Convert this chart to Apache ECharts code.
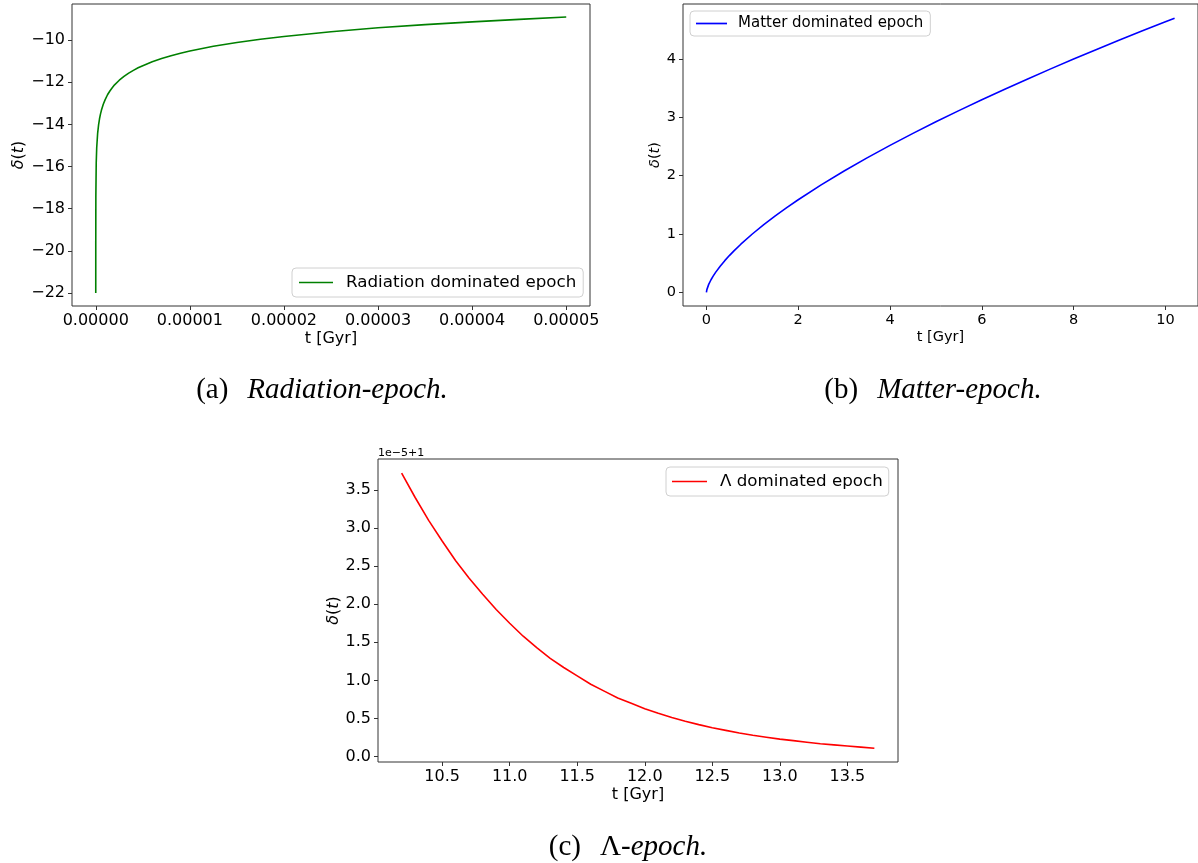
<!DOCTYPE html>
<html><head><meta charset="utf-8">
<script src="https://cdn.jsdelivr.net/npm/echarts@6/dist/echarts.min.js"></script>
<style>html,body{margin:0;padding:0;background:#fff}#c{width:1198px;height:863px}</style>
</head><body><div id="c"></div>
<script>
// ---- Data ----
const tRad = [1.03e-10, 1e-9, 1e-8, 5e-8, 1e-7, 2e-7, 3e-7, 4e-7, 5e-7, 6e-7, 8e-7, 1e-6, 1.25e-6, 1.5e-6, 1.75e-6, 2e-6, 2.5e-6, 3e-6, 3.5e-6, 4e-6, 4.5e-6, 5e-6, 6e-6, 7e-6, 8e-6, 9e-6, 1e-5, 1.25e-5, 1.5e-5, 1.75e-5, 2e-5, 2.5e-5, 3e-5, 3.5e-5, 4e-5, 4.5e-5, 5e-5];
const deltaRad = [-22.0, -19.72, -17.42, -15.81, -15.12, -14.42, -14.02, -13.73, -13.51, -13.33, -13.04, -12.82, -12.59, -12.41, -12.26, -12.12, -11.90, -11.72, -11.56, -11.43, -11.31, -11.21, -11.02, -10.87, -10.74, -10.62, -10.51, -10.29, -10.11, -9.95, -9.82, -9.60, -9.41, -9.26, -9.13, -9.01, -8.90];

const tMat = [0, 0.01, 0.02, 0.05, 0.1, 0.15, 0.2, 0.3, 0.4, 0.5, 0.6, 0.75, 1, 1.25, 1.5, 1.75, 2, 2.5, 3, 3.5, 4, 4.5, 5, 5.5, 6, 6.5, 7, 7.5, 8, 8.5, 9, 9.5, 10, 10.2];
const deltaMat = [0, 0.046, 0.074, 0.136, 0.215, 0.282, 0.342, 0.448, 0.543, 0.630, 0.711, 0.825, 1.0, 1.160, 1.310, 1.452, 1.587, 1.842, 2.080, 2.305, 2.520, 2.726, 2.924, 3.116, 3.302, 3.483, 3.659, 3.832, 4.0, 4.165, 4.327, 4.485, 4.642, 4.702];

const tLam = [10.2, 10.3, 10.4, 10.5, 10.6, 10.7, 10.8, 10.9, 11.0, 11.1, 11.2, 11.3, 11.4, 11.5, 11.6, 11.7, 11.8, 11.9, 12.0, 12.1, 12.2, 12.3, 12.4, 12.5, 12.6, 12.7, 12.8, 12.9, 13.0, 13.1, 13.2, 13.3, 13.4, 13.5, 13.6, 13.7];
// delta - 1, in units of 1e-5 (axis offset "1e-5+1")
const deltaLam = [3.72, 3.40, 3.10, 2.83, 2.57, 2.34, 2.13, 1.93, 1.75, 1.58, 1.43, 1.29, 1.17, 1.06, 0.95, 0.86, 0.77, 0.70, 0.63, 0.57, 0.515, 0.465, 0.42, 0.38, 0.345, 0.31, 0.28, 0.255, 0.23, 0.21, 0.19, 0.17, 0.155, 0.14, 0.125, 0.11];

const xTicksRad = [0, 1e-5, 2e-5, 3e-5, 4e-5, 5e-5];
const yTicksRad = [-22, -20, -18, -16, -14, -12, -10];
const xTicksMat = [0, 2, 4, 6, 8, 10];
const yTicksMat = [0, 1, 2, 3, 4];
const xTicksLam = [10.5, 11.0, 11.5, 12.0, 12.5, 13.0, 13.5];
const yTicksLam = [0, 0.5, 1.0, 1.5, 2.0, 2.5, 3.0, 3.5];

const seriesNames = ['Radiation dominated epoch', 'Matter dominated epoch', '\u039B dominated epoch'];
const captions = [['(a)', '', 'Radiation-epoch.'], ['(b)', '', 'Matter-epoch.'], ['(c)', '\u039B', '-epoch.']];
const xName = 't [Gyr]';
const offsetText = '1e\u22125+1';

// ---- Chart ----
const FONT = 'DejaVu Sans';
const pair = (xs, ys) => xs.map((x, i) => [x, ys[i]]);
const minus = v => (v < 0 ? '\u2212' + String(-v) : String(v));

function xAxis(gi, min, max, ticks, fmt, fs, gap) {
  return {
    type: 'value', gridIndex: gi, min, max,
    name: xName, nameLocation: 'middle', nameGap: gap,
    nameTextStyle: { fontFamily: FONT, fontSize: fs, color: '#000' },
    axisLine: { show: false, onZero: false },
    axisTick: { show: true, customValues: ticks, length: 4, lineStyle: { color: '#333', width: 1 } },
    axisLabel: { customValues: ticks, formatter: fmt, margin: 7, fontFamily: FONT, fontSize: fs, color: '#000' },
    splitLine: { show: false }
  };
}
function yAxis(gi, min, max, ticks, fmt, gap, fs) {
  return {
    type: 'value', gridIndex: gi, min, max,
    name: '{i|\u03B4}{n|(}{i|t}{n|)}', nameLocation: 'middle', nameGap: gap, nameRotate: 90,
    nameTextStyle: { fontFamily: FONT, fontSize: fs, color: '#000',
      rich: { i: { fontFamily: FONT, fontSize: fs, fontStyle: 'italic', color: '#000' },
              n: { fontFamily: FONT, fontSize: fs, color: '#000' } } },
    axisLine: { show: false, onZero: false },
    axisTick: { show: true, customValues: ticks, length: 4, lineStyle: { color: '#333', width: 1 } },
    axisLabel: { customValues: ticks, formatter: fmt, margin: 7, fontFamily: FONT, fontSize: fs, color: '#000' },
    splitLine: { show: false }
  };
}
function legend(name, left, top, fs, iw, pad, tpad) {
  return {
    data: [{ name: name, icon: 'rect' }], left, top, orient: 'horizontal', selectedMode: false,
    padding: pad, itemWidth: iw, itemHeight: 1.7,
    backgroundColor: '#fff', borderColor: '#d0d0d0', borderWidth: 1, borderRadius: 4,
    textStyle: { fontFamily: FONT, fontSize: fs, color: '#000', padding: [0, 0, 0, tpad] }
  };
}
const gridStyle = { show: true, borderColor: '#333', borderWidth: 1, backgroundColor: 'transparent', containLabel: false };

function caption(cx, cy, parts) {
  const base = { fontFamily: 'Liberation Serif', fontSize: 29, fill: '#000', color: '#000' };
  return {
    type: 'text', x: cx, y: cy,
    style: {
      text: '{n|' + parts[0] + '}' + (parts[1] ? '{u|' + parts[1] + '}' : '') + '{i|' + parts[2] + '}',
      align: 'center', verticalAlign: 'middle',
      rich: {
        n: Object.assign({ padding: [0, 19, 0, 0] }, base),
        u: Object.assign({}, base),
        i: Object.assign({ fontStyle: 'italic' }, base)
      }
    }
  };
}

const chart = echarts.init(document.getElementById('c'), null, { renderer: 'canvas' });
chart.setOption({
  animation: false,
  backgroundColor: '#fff',
  grid: [
    Object.assign({ left: 72, top: 4, width: 518, height: 302 }, gridStyle),
    Object.assign({ left: 683, top: 4, width: 520, height: 302 }, gridStyle),
    Object.assign({ left: 378, top: 459, width: 520, height: 303 }, gridStyle)
  ],
  xAxis: [
    xAxis(0, -0.2525e-5, 5.2525e-5, xTicksRad, v => v.toFixed(5), 16, 25),
    xAxis(1, -0.51, 10.71, xTicksMat, v => String(v), 14.5, 24),
    xAxis(2, 10.025, 13.875, xTicksLam, v => v.toFixed(1), 16, 25)
  ],
  yAxis: [
    yAxis(0, -22.62, -8.28, yTicksRad, minus, 44, 16),
    yAxis(1, -0.235, 4.945, yTicksMat, v => String(v), 13, 14.5),
    yAxis(2, -0.07, 3.905, yTicksLam, v => v.toFixed(1), 36, 16)
  ],
  legend: [
    legend(seriesNames[0], 292, 268, 16.7, 34, [6, 7, 6, 7], 8),
    legend(seriesNames[1], 690, 11, 15, 31, [5, 7, 5, 6], 6),
    legend(seriesNames[2], 666, 467, 16.7, 35, [6, 6, 6, 6], 8)
  ],
  series: [
    { name: seriesNames[0], type: 'line', xAxisIndex: 0, yAxisIndex: 0, data: pair(tRad, deltaRad),
      symbol: 'none', smooth: false, lineStyle: { color: '#008000', width: 1.6 }, itemStyle: { color: '#008000' } },
    { name: seriesNames[1], type: 'line', xAxisIndex: 1, yAxisIndex: 1, data: pair(tMat, deltaMat),
      symbol: 'none', smooth: false, lineStyle: { color: '#0000ff', width: 1.6 }, itemStyle: { color: '#0000ff' } },
    { name: seriesNames[2], type: 'line', xAxisIndex: 2, yAxisIndex: 2, data: pair(tLam, deltaLam),
      symbol: 'none', smooth: false, lineStyle: { color: '#ff0000', width: 1.6 }, itemStyle: { color: '#ff0000' } }
  ],
  graphic: [
    caption(322, 390, captions[0]),
    caption(933, 390, captions[1]),
    caption(628, 847, captions[2]),
    { type: 'text', x: 378, y: 453, style: { text: offsetText, fontFamily: FONT, fontSize: 11, fill: '#000', align: 'left', verticalAlign: 'middle' } }
  ]
});
</script>
</body></html>
